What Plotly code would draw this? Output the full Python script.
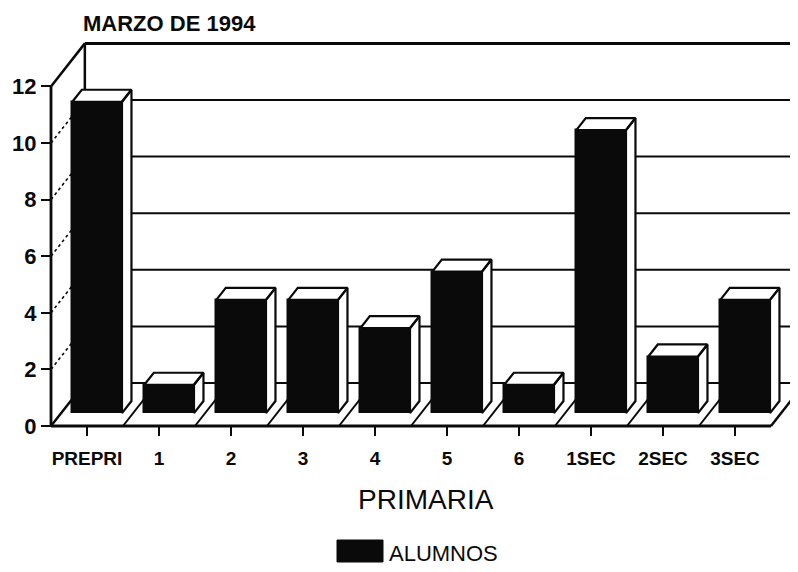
import plotly.graph_objects as go

# ---------------- data ----------------
categories = ["PREPRI", "1", "2", "3", "4", "5", "6", "1SEC", "2SEC", "3SEC"]
alumnos = [11, 1, 4, 4, 3, 5, 1, 10, 2, 4]
y_ticks = [0, 2, 4, 6, 8, 10, 12]

title_text = "MARZO DE 1994"
x_title = "PRIMARIA"
series_name = "ALUMNOS"

# ---------------- geometry / style ----------------
OFF = 8                           # page body margin in the browser
W, H = 798 - OFF, 572 - OFF       # figure size so it fits the window
PX_X, PX_Y = 72.0, 28.3           # pixels per category / per value unit
X0_PX, Y0_PX = 87.0 - OFF, 426.0 - OFF   # pixel of first category / of value 0
DX, DY = 0.47, 1.52               # depth projection in axis units
F1, F2 = 0.30, 0.58               # bar front / back depth fractions
BAR_W = 0.69
INK = "#0a0a0a"
FONT = "Liberation Sans, Arial, sans-serif"


def px_x(p):
    return (p - OFF) / W


def px_y(p):
    return 1 - (p - OFF) / H


x_range = [-X0_PX / PX_X, (W - X0_PX) / PX_X]
y_range = [-(H - Y0_PX) / PX_Y, Y0_PX / PX_Y]

n = len(categories)
xl, xr = -0.5, n - 0.5
ymax = max(y_ticks)

shapes = []


def seg(x0, y0, x1, y1, width=2.0, dash="solid"):
    shapes.append(dict(type="line", xref="x", yref="y", x0=x0, y0=y0, x1=x1, y1=y1,
                       line=dict(color=INK, width=width, dash=dash), layer="below"))


# back wall
for v in y_ticks:
    if v == 0:
        seg(xl + DX, v + DY, xr + DX, v + DY, 2.2)
    else:
        seg(xl + DX, v + DY, xr + DX + 1, v + DY, 3.0 if v == ymax else 2.0)
seg(xl + DX, DY, xl + DX, ymax + DY, 2.5)
seg(xr + DX, DY, xr + DX, ymax + DY, 2.5)

# left wall
for v in y_ticks:
    if v in (0, ymax):
        seg(xl, v, xl + DX, v + DY, 2.5)
    else:
        seg(xl, v, xl + DX, v + DY, 1.6, "dot")
seg(xl, 0, xl, ymax, 2.8)

# floor
seg(xl, 0, xr, 0, 2.8)
seg(xr, 0, xr + DX, DY, 2.5)
for k in range(1, n):
    seg(k - 0.5, 0, k - 0.5 + DX, DY, 2.0)

# legend swatch (paper coords)
shapes.append(dict(type="rect", xref="paper", yref="paper",
                   x0=px_x(337), x1=px_x(383), y0=px_y(562), y1=px_y(540),
                   fillcolor=INK, line=dict(color=INK, width=1)))

fig = go.Figure()

# front faces of bars
fig.add_trace(go.Bar(
    x=[i + F1 * DX for i in range(n)], y=alumnos, base=F1 * DY, width=BAR_W,
    marker=dict(color=INK, line=dict(color=INK, width=1.5)),
    name=series_name, showlegend=False, hoverinfo="skip"))

# top and side faces
half = BAR_W / 2
px, py = [], []
for i, v in enumerate(alumnos):
    fl = i - half + F1 * DX
    fr = i + half + F1 * DX
    bl = i - half + F2 * DX
    br = i + half + F2 * DX
    # top face
    px += [fl, fr, br, bl, fl, None]
    py += [v + F1 * DY, v + F1 * DY, v + F2 * DY, v + F2 * DY, v + F1 * DY, None]
    # side face
    px += [fr, br, br, fr, fr, None]
    py += [v + F1 * DY, v + F2 * DY, F2 * DY, F1 * DY, v + F1 * DY, None]
fig.add_trace(go.Scatter(x=px, y=py, mode="lines", fill="toself", fillcolor="white",
                         line=dict(color=INK, width=2.2), showlegend=False,
                         hoverinfo="skip"))

fig.update_layout(
    width=W, height=H,
    margin=dict(l=0, r=0, t=0, b=0),
    paper_bgcolor="white", plot_bgcolor="white",
    showlegend=False,
    bargap=0,
    font=dict(family=FONT, color=INK),
    title=dict(text=title_text, x=px_x(83), xanchor="left", y=px_y(23), yanchor="middle",
               font=dict(family=FONT, size=22, weight="bold", color=INK)),
    xaxis=dict(range=x_range, anchor="free",
               position=(0 - y_range[0]) / (y_range[1] - y_range[0]),
               tickmode="array", tickvals=list(range(n)), ticktext=categories,
               ticks="outside", ticklen=9, tickwidth=2, tickcolor=INK,
               ticklabelstandoff=6,
               tickfont=dict(family=FONT, size=19, weight="bold", color=INK),
               showgrid=False, zeroline=False, showline=False),
    yaxis=dict(range=y_range, anchor="free",
               position=(xl - x_range[0]) / (x_range[1] - x_range[0]),
               tickmode="array", tickvals=y_ticks,
               ticks="outside", ticklen=10, tickwidth=2, tickcolor=INK,
               tickfont=dict(family=FONT, size=22, weight="bold", color=INK),
               showgrid=False, zeroline=False, showline=False),
    shapes=shapes,
    annotations=[
        dict(text=x_title, xref="paper", yref="paper", x=px_x(426), y=px_y(499),
             xanchor="center", yanchor="middle", showarrow=False,
             font=dict(family=FONT, size=28, color=INK)),
        dict(text=series_name, xref="paper", yref="paper", x=px_x(387), y=px_y(553),
             xanchor="left", yanchor="middle", showarrow=False,
             font=dict(family=FONT, size=22, color=INK)),
    ],
)

fig.write_html("out.html")
